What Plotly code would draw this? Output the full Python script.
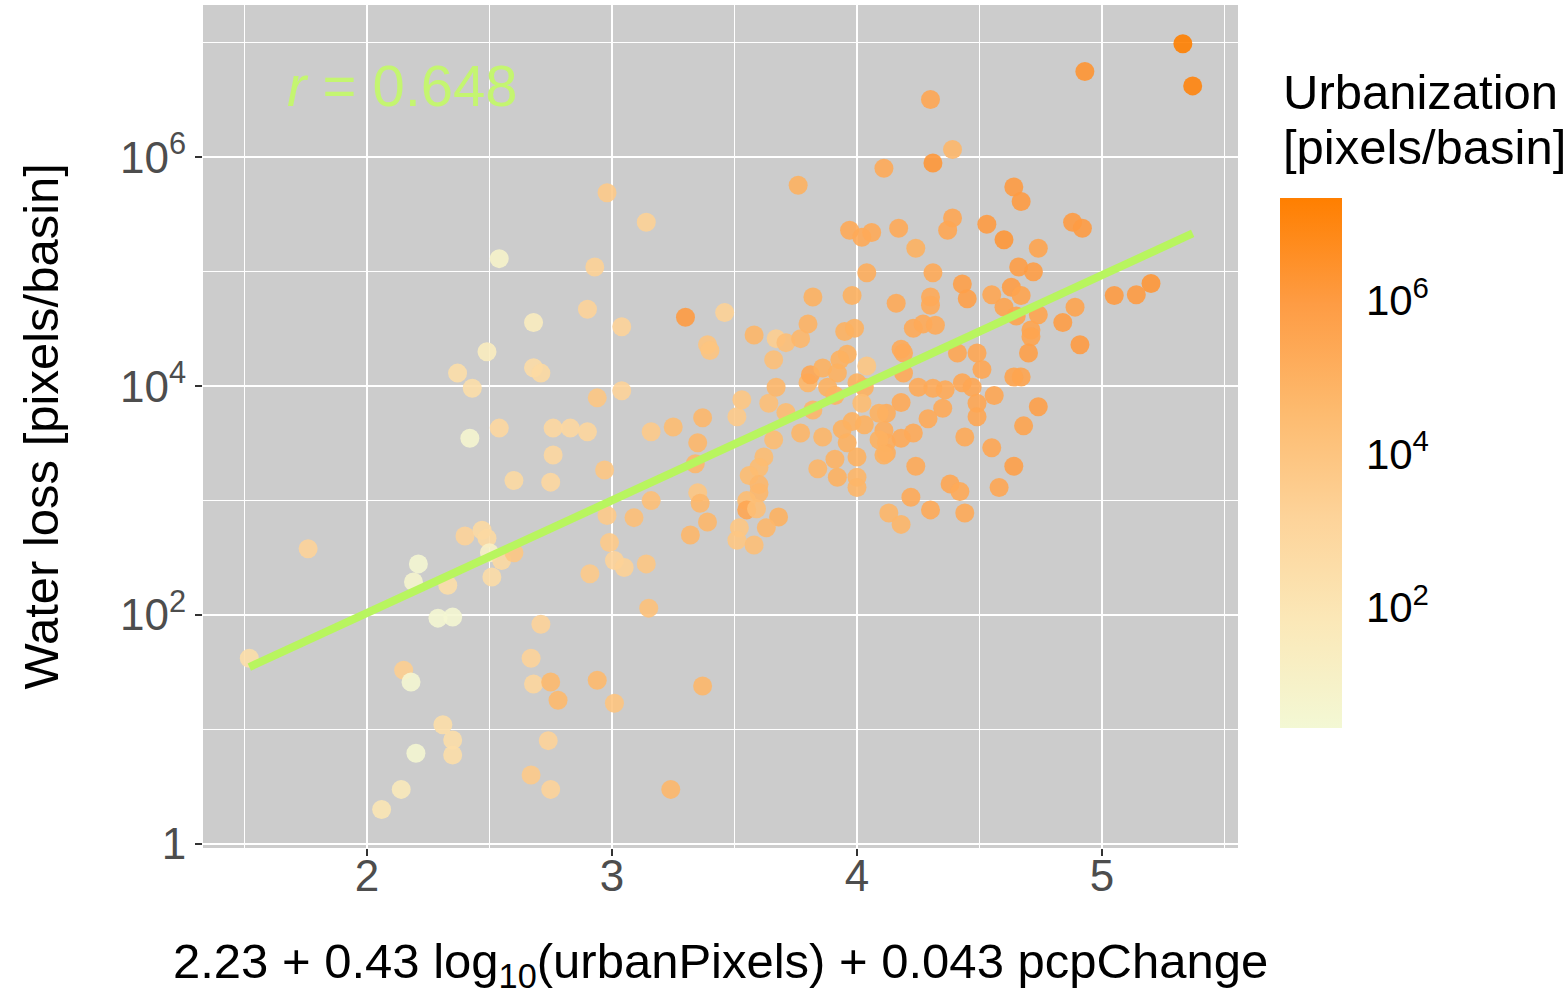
import numpy as np
import plotly.graph_objects as go

# predicted value: 2.23 + 0.43 log10(urbanPixels) + 0.043 pcpChange
pred = [1.52, 1.76, 2.06, 2.14, 2.15, 2.18, 2.20, 2.21, 2.19, 2.29, 2.35, 2.31, 2.35, 2.35, 2.33,
        2.40, 2.47, 2.49, 2.50, 2.55, 2.60, 2.51, 2.42, 2.54, 2.76, 2.83, 2.90, 2.76, 2.75, 2.60,
        2.97, 2.98, 2.99, 3.01, 2.91, 2.67, 2.68, 2.71, 2.75, 2.78, 2.94, 3.01, 2.74, 2.67, 2.75,
        3.24, 3.37, 3.15, 3.05, 3.14, 3.09, 3.16, 2.54, 2.98, 2.93, 3.14, 2.90, 2.68, 2.49, 2.68,
        2.71, 2.37, 2.43, 2.94, 3.04, 3.04, 3.30, 3.46, 3.39, 3.40, 3.58, 3.67, 3.71, 3.77, 3.80,
        3.82, 3.76, 3.66, 3.95, 3.99, 3.96, 3.93, 3.98, 4.04, 3.97, 4.02, 4.06, 4.11, 4.30, 4.39,
        4.31, 4.17, 4.39, 4.37, 4.53, 4.60, 4.24, 4.64, 4.67, 4.88, 4.92, 4.74, 4.66, 4.72, 4.31,
        4.43, 4.45, 4.55, 4.63, 4.67, 4.60, 4.16, 4.30, 4.30, 5.05, 5.14, 5.20, 4.89, 4.84, 4.74,
        4.65, 4.71, 4.71, 4.91, 4.23, 4.27, 4.32, 4.18, 4.19, 4.41, 4.49, 4.70, 4.19, 4.51, 4.67,
        4.64, 4.25, 4.31, 4.36, 4.43, 4.47, 4.56, 4.18, 4.35, 4.29, 4.49, 4.49, 4.12, 4.11, 4.12,
        4.12, 4.23, 4.18, 4.44, 4.68, 4.74, 4.55, 4.64, 4.24, 4.38, 4.42, 4.58, 4.22, 4.30, 4.44,
        4.13, 4.18, 3.37, 3.25, 3.16, 3.51, 3.53, 3.64, 3.67, 3.71, 3.82, 3.80, 3.81, 3.86, 3.92,
        3.88, 4.04, 4.00, 4.03, 3.91, 4.02, 3.77, 3.86, 3.94, 3.98, 4.03, 4.09, 3.96, 4.09, 3.66,
        4.00, 3.91, 3.92, 3.84, 4.11, 4.00, 4.00, 3.35, 3.34, 3.62, 3.60, 3.56, 3.60, 3.60, 3.55,
        3.55, 3.59, 3.68, 3.35, 3.36, 3.39, 3.32, 3.52, 3.51, 3.58, 3.63, 5.33, 5.37, 4.93]

# water loss [pixels/basin]
water_loss = [42, 380, 2.0, 3.0, 33, 26, 6.2, 280, 195, 94, 96, 11, 8.1, 6.0, 182,
              490, 550, 470, 350, 300, 350, 215, 3500, 4300, 4300, 4300, 4000, 2500, 1450, 1500,
              1850, 740, 430, 300, 230, 42, 25, 83, 26, 18, 27, 17, 8.0, 4.0, 3.0,
              3.0, 24, 115, 260, 280, 710, 1000, 1.3e5, 4.9e5, 1.1e5, 2.7e5, 4.7e4, 3.6e4, 2.0e4, 1.45e4,
              1.3e4, 1.3e4, 9.6e3, 7.9e3, 9.1e3, 3.3e4, 4.0e4, 4.4e4, 2.3e4, 2.05e4, 2.8e4, 2.6e4, 2.4e4, 2.6e4, 3.5e4,
              6.0e4, 5.7e5, 1.7e4, 3.0e4, 3.2e4, 1.9e4, 1.7e4, 6.2e4, 9.8e4, 2.3e5, 2.0e5, 2.2e5, 8.0e5, 3.2e6, 1.17e6,
              8.9e5, 2.4e5, 2.95e5, 2.3e5, 2.6e5, 1.9e5, 1.6e5, 5.5e5, 4.1e5, 2.7e5, 2.4e5, 1.6e5, 1.1e5, 1.0e5, 9.8e4,
              7.8e4, 5.8e4, 6.3e4, 7.3e4, 6.2e4, 4.9e4, 5.3e4, 6.0e4, 5.1e4, 6.2e4, 6.3e4, 7.9e4, 4.9e4, 3.6e4, 4.2e4,
              4.1e4, 3.1e4, 2.7e4, 2.3e4, 3.2e4, 3.5e4, 3.4e4, 2.1e4, 1.95e4, 1.95e4, 1.95e4, 1.95e4, 1.3e4, 1.4e4, 1.2e4,
              1.2e4, 9.8e3, 9.6e3, 9.3e3, 1.07e4, 9.8e3, 8.3e3, 7.2e3, 6.4e3, 5.2e3, 7.1e3, 5.4e3, 5.8e3, 4.1e3, 3.2e3,
              2.6e3, 3.9e3, 3.5e3, 3.6e3, 4.5e3, 6.6e3, 2.9e3, 2.0e3, 2.0e3, 1.4e3, 1.2e3, 1.3e3, 1.07e3, 830, 780,
              780, 620, 5.3e3, 4.4e3, 4.0e3, 5.4e3, 7.6e3, 7.1e3, 9.8e3, 5.9e3, 6.2e3, 1.07e4, 1.26e4, 1.44e4, 1.3e4,
              9.8e3, 1.5e4, 1.07e4, 9.8e3, 8.3e3, 7.1e3, 3.9e3, 3.6e3, 4.2e3, 4.9e3, 4.6e3, 5.8e3, 3.2e3, 3.4e3, 3.4e3,
              2.4e3, 2.3e3, 1.6e3, 1.9e3, 2.5e3, 1.6e3, 1.3e3, 3.2e3, 2.1e3, 2.4e3, 1.95e3, 1.66e3, 1.38e3, 1.17e3, 1.0e3,
              830, 850, 720, 1.17e3, 950, 650, 500, 580, 450, 410, 580, 9.8e6, 4.2e6, 5.6e6]

# urbanization [pixels/basin] (colour)
urban_pixels = [300, 1500, 100, 50, 3000, 4, 4, 4, 6, 4, 4, 300, 300, 300, 300,
                1500, 600, 600, 15, 600, 8000, 400, 5, 800, 800, 800, 1000, 800, 800, 600,
                8000, 5000, 5000, 1500, 5000, 1500, 1000, 1500, 4e4, 4e4, 4e4, 1e4, 1500, 5000, 1500,
                5e4, 5e4, 1.5e4, 2000, 8000, 2e4, 2e4, 8, 5000, 2000, 2000, 1500, 30, 30, 400,
                600, 300, 300, 8000, 1500, 1500, 1e6, 2000, 1e4, 1e4, 6e4, 3000, 2e4, 5e4, 8e4,
                1e5, 1e5, 2e4, 1e5, 1e5, 1e5, 1e5, 1e5, 1.5e5, 2e5, 2e5, 2e5, 2e5, 3e5, 5e4,
                1.5e6, 2e5, 3e5, 3e5, 1e6, 1.5e6, 1e5, 1e6, 1e6, 1e6, 1e6, 4e5, 8e5, 8e5, 2e5,
                6e5, 6e5, 3e5, 8e5, 4e5, 4e5, 2e5, 2e5, 2e5, 1e6, 1e6, 1.5e6, 4e5, 8e5, 4e5,
                4e5, 4e5, 4e5, 1e6, 2e5, 2e5, 2e5, 2e5, 2e5, 3e5, 3e5, 6e5, 2e5, 3e5, 4e5,
                4e5, 2e5, 2e5, 2e5, 3e5, 3e5, 3e5, 2e5, 2e5, 2e5, 3e5, 3e5, 1.5e5, 1.5e5, 1.5e5,
                1.5e5, 2e5, 2e5, 2e5, 4e5, 6e5, 3e5, 6e5, 2e5, 3e5, 2e5, 3e5, 2e5, 2e5, 2e5,
                6e4, 6e4, 5e4, 3e4, 5000, 5000, 8000, 2e4, 5e4, 3e4, 6e4, 6e4, 3e5, 1e5, 1e5,
                1e5, 8000, 1e5, 1e5, 8e4, 3e4, 6e4, 6e4, 1e5, 1e5, 1e5, 1e5, 1e5, 1e5, 3e4,
                1e5, 8e4, 1e5, 6e4, 1e5, 6e4, 6e4, 5e4, 5e4, 3e4, 3e4, 3e4, 5e4, 5e4, 3e4,
                3e5, 2e4, 1e5, 8000, 5e4, 5e4, 5e4, 8000, 8000, 2e4, 5e4, 2.2e7, 1.2e7, 2e6]

# fitted line (log10 water loss vs predicted)
fit_intercept = 0.05
fit_slope = 0.984
r_value = 0.648

colour_log_range = [0.43, 7.34]
y_tick_vals = [1, 1e2, 1e4, 1e6]
y_tick_text = ["1", "10<sup>2</sup>", "10<sup>4</sup>", "10<sup>6</sup>"]
x_tick_vals = [2, 3, 4, 5]
cbar_tick_vals = [2, 4, 6]
cbar_tick_text = ["10<sup>2</sup>", "10<sup>4</sup>", "10<sup>6</sup>"]

FONT = "Liberation Sans, Arial, sans-serif"
colorscale = [[0.0, "#F3F8D4"], [0.2, "#FBE8B8"], [0.4, "#FDD399"],
              [0.6, "#FDBA6E"], [0.8, "#FE9C44"], [1.0, "#FF7F00"]]

fig = go.Figure()
fig.add_trace(go.Scatter(
    x=pred, y=water_loss, mode="markers",
    marker=dict(size=19, opacity=0.9, line=dict(width=0),
                color=np.log10(urban_pixels), colorscale=colorscale,
                cmin=colour_log_range[0], cmax=colour_log_range[1],
                colorbar=dict(
                    x=1.0406, xanchor="left", xpad=0,
                    y=(848 - 198) / 843, yanchor="top", ypad=0,
                    len=530, lenmode="pixels", thickness=62, thicknessmode="pixels",
                    outlinewidth=0, tickmode="array", tickvals=cbar_tick_vals,
                    ticktext=cbar_tick_text, ticks="outside", ticklen=16,
                    tickcolor="rgba(0,0,0,0)", tickwidth=1,
                    tickfont=dict(family=FONT, size=42, color="black"))),
    showlegend=False, hoverinfo="skip"))

line_x = np.array([min(pred), max(pred)])
fig.add_trace(go.Scatter(
    x=line_x, y=10 ** (fit_intercept + fit_slope * line_x), mode="lines",
    line=dict(color="#B8F55E", width=8), showlegend=False, hoverinfo="skip"))

fig.update_layout(
    width=1568, height=993,
    margin=dict(l=203, r=330, t=5, b=145, autoexpand=False),
    paper_bgcolor="white", plot_bgcolor="#CCCCCC",
    font=dict(family=FONT, color="black"),
    xaxis=dict(range=[1.331, 5.555], tickmode="array", tickvals=x_tick_vals,
               showgrid=True, gridcolor="white", gridwidth=2, zeroline=False,
               ticks="outside", ticklen=7, tickwidth=2, tickcolor="#333333",
               ticklabelstandoff=-18,
               tickfont=dict(family=FONT, size=44, color="#4D4D4D"),
               minor=dict(tickvals=[1.5, 2.5, 3.5, 4.5, 5.5], showgrid=True,
                          gridcolor="white", gridwidth=1, ticks="")),
    yaxis=dict(type="log", range=[-0.035, 7.33], tickmode="array",
               tickvals=y_tick_vals, ticktext=y_tick_text,
               showgrid=True, gridcolor="white", gridwidth=2, zeroline=False,
               ticks="outside", ticklen=7, tickwidth=2, tickcolor="#333333",
               tickfont=dict(family=FONT, size=44, color="#4D4D4D"),
               minor=dict(tickvals=[10, 1e3, 1e5, 1e7], showgrid=True,
                          gridcolor="white", gridwidth=1, ticks="")),
)

fig.add_annotation(x=1.665, y=6.63, xref="x", yref="y", xanchor="left", yanchor="middle",
                   text=f"<i>r</i> = {r_value}", showarrow=False,
                   font=dict(family=FONT, size=58, color="#C4F570"))
fig.add_annotation(x=0.5, y=(848 - 965) / 843, xref="paper", yref="paper",
                   xanchor="center", yanchor="middle", showarrow=False,
                   text="2.23 + 0.43 log<sub>10</sub>(urbanPixels) + 0.043 pcpChange",
                   font=dict(family=FONT, size=49, color="black"))
fig.add_annotation(x=(40 - 203) / 1035, y=0.5, xref="paper", yref="paper",
                   xanchor="center", yanchor="middle", showarrow=False, textangle=-90,
                   text="Water loss [pixels/basin]",
                   font=dict(family=FONT, size=49, color="black"))
fig.add_annotation(x=(1281 - 203) / 1035, y=(848 - 92) / 843, xref="paper", yref="paper",
                   xanchor="left", yanchor="middle", showarrow=False,
                   text="Urbanization", font=dict(family=FONT, size=49, color="black"))
fig.add_annotation(x=(1281 - 203) / 1035, y=(848 - 147) / 843, xref="paper", yref="paper",
                   xanchor="left", yanchor="middle", showarrow=False,
                   text="[pixels/basin]", font=dict(family=FONT, size=49, color="black"))

fig.write_html("out.html", config={"displayModeBar": False},
               post_script="document.body.style.margin='0';")
